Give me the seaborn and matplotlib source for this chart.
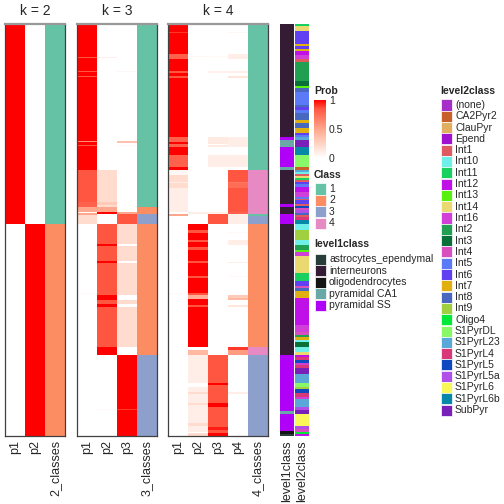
import numpy as np
import pandas as pd
import matplotlib
matplotlib.use("Agg")
import matplotlib.pyplot as plt
import seaborn as sns
from matplotlib.colors import ListedColormap, LinearSegmentedColormap
from matplotlib.patches import Rectangle
import matplotlib.cm as cm
import matplotlib.colors as mcolors

# run-length encoded rows: (number of samples, value), top to bottom
k2_p1 = [(200, 1.0), (212, 0.0)]
k2_p2 = [(200, 0.0), (212, 1.0)]
k2_cls = [(200, 1), (212, 2)]

k3_p1 = [(33, 1), (1, 0.85), (13, 1), (1, 0.85), (4, 1), (1, 0.85), (64, 1), (1, 0.6),
         (3, 1), (1, 0.85), (24, 1), (32, 0.85), (5, 0.8), (5, 0.5), (1, 0), (2, 0.5),
         (9, 0.2), (69, 0), (1, 0.03), (142, 0)]
k3_p2 = [(33, 0), (1, 0.1), (112, 0), (32, 0.2), (3, 0.3), (2, 0.2), (5, 0.5), (2, 1),
         (10, 0), (20, 0.85), (2, 1), (15, 0.85), (2, 1), (32, 0.85), (5, 1), (4, 0.85),
         (3, 1), (40, 0.85), (8, 1), (54, 0), (1, 0.03), (26, 0)]
k3_p3 = [(47, 0), (1, 0.05), (69, 0), (2, 0.35), (2, 0), (1, 0.05), (66, 0), (2, 0.5),
         (10, 0.85), (20, 0.2), (2, 0), (15, 0.2), (2, 0), (32, 0.2), (5, 0), (4, 0.2),
         (3, 0), (40, 0.2), (8, 0), (54, 1), (1, 0.9), (26, 1)]
k3_cls = [(183, 1), (7, 2), (10, 3), (131, 2), (81, 3)]

k4_p1 = [(8, 1), (1, 0.9), (21, 1), (5, 0.8), (12, 1), (2, 0.85), (3, 1), (2, 0.85),
         (59, 1), (5, 0.8), (2, 1), (3, 0.8), (8, 1), (12, 0.8), (3, 1), (5, 0.05),
         (7, 0.2), (1, 0.1), (5, 0.2), (24, 0.1), (2, 0), (2, 0.5), (77, 0), (1, 0.04),
         (142, 0)]
k4_p2 = [(32, 0), (1, 0.05), (155, 0), (2, 0.1), (10, 0), (6, 1), (3, 0.85), (7, 1),
         (2, 0.85), (5, 1), (3, 0.85), (11, 1), (2, 0.85), (13, 1), (2, 0.85), (15, 1),
         (2, 0.85), (4, 0.45), (6, 1), (2, 0.85), (40, 1), (3, 0), (5, 0.4), (28, 0.1),
         (4, 0), (5, 0.1), (2, 0.2), (9, 0.1), (2, 0.2), (18, 0.1), (3, 0.2), (6, 0.1),
         (1, 0), (3, 0.2)]
k4_p3 = [(32, 0), (1, 0.04), (14, 0), (2, 0.08), (64, 0), (7, 0.12), (1, 0), (2, 0.12),
         (8, 0), (12, 0.1), (45, 0), (2, 0.08), (10, 0.85), (131, 0), (28, 0.85), (2, 1),
         (18, 0.85), (4, 1), (20, 0.85), (3, 0.95), (3, 0.85), (3, 1)]
k4_p4 = [(8, 0), (1, 0.05), (21, 0), (5, 0.1), (12, 0), (2, 0.1), (3, 0), (2, 0.15),
         (59, 0), (10, 0.1), (8, 0), (12, 0.1), (3, 0), (12, 0.85), (1, 0.7), (5, 0.75),
         (24, 0.85), (2, 0.8), (10, 0.1), (8, 0), (1, 0.04), (7, 0), (5, 0.1), (17, 0),
         (1, 0.1), (13, 0), (1, 0.04), (18, 0), (3, 0.3), (2, 0.4), (5, 0), (2, 0.15),
         (40, 0), (3, 0.9), (5, 0.55), (37, 0), (2, 0.1), (42, 0)]
k4_cls = [(146, 1), (44, 4), (2, 1), (8, 3), (123, 2), (8, 4), (81, 3)]

level1_names = ["astrocytes_ependymal", "interneurons", "oligodendrocytes",
                "pyramidal CA1", "pyramidal SS"]
level1_colors = ["#283C38", "#341C34", "#141414", "#6AA8A8", "#B000F8"]
level1 = [("interneurons", 113), ("pyramidal SS", 3), ("pyramidal CA1", 7),
          ("pyramidal SS", 20), ("pyramidal CA1", 3), ("interneurons", 34),
          ("pyramidal SS", 3), ("interneurons", 7), ("pyramidal SS", 10),
          ("interneurons", 131), ("pyramidal SS", 56), ("pyramidal CA1", 3),
          ("pyramidal SS", 17), ("oligodendrocytes", 3), ("astrocytes_ependymal", 2)]

level2_names = ["(none)", "CA2Pyr2", "ClauPyr", "Epend", "Int1", "Int10", "Int11",
                "Int12", "Int13", "Int14", "Int16", "Int2", "Int3", "Int4", "Int5",
                "Int6", "Int7", "Int8", "Int9", "Oligo4", "S1PyrDL", "S1PyrL23",
                "S1PyrL4", "S1PyrL5", "S1PyrL5a", "S1PyrL6", "S1PyrL6b", "SubPyr"]
level2_colors = ["#A52FC8", "#C8602A", "#E0B060", "#A010D0", "#E05A62", "#6EF0E8",
                 "#18D060", "#C010E8", "#58F010", "#EAD870", "#D040D8", "#20A050",
                 "#087038", "#D850C0", "#5A7AF8", "#6040F0", "#E0B010", "#4868C0",
                 "#A0D040", "#00E838", "#88F868", "#5AA8D8", "#D83878", "#1048C0",
                 "#B050E8", "#F8F858", "#0888A8", "#7820B8"]
level2 = [("Int11", 2), ("Int14", 5), ("Int6", 13), ("Int7", 2), ("Int6", 3), ("Int7", 2),
          ("Int12", 4), ("Int16", 4), ("Int1", 3), ("Int2", 19), ("Int3", 5), ("Int13", 2),
          ("Int8", 4), ("Int5", 13), ("Int8", 2), ("Int6", 3), ("Int5", 3), ("Int8", 7),
          ("Int7", 3), ("Int8", 5), ("Int7", 5), ("Int6", 2), ("Int5", 2),
          ("S1PyrL23", 3), ("SubPyr", 7), ("S1PyrL6b", 8), ("S1PyrDL", 12), ("CA2Pyr2", 3),
          ("S1PyrL23", 2), ("Int10", 2), ("Int1", 2), ("Int14", 2), ("Int11", 2),
          ("Int1", 2), ("Int6", 2), ("Int5", 3), ("Int12", 5), ("Int16", 5), ("Int5", 2),
          ("Int1", 1), ("Int6", 4), ("Int1", 2), ("S1PyrL5", 2), ("Int4", 2),
          ("S1PyrL5a", 3), ("Int8", 2), ("Int1", 2), ("S1PyrL4", 3), ("S1PyrL6b", 4),
          ("Int10", 6), ("Int9", 10), ("Int10", 5), ("Int2", 5), ("Int13", 2),
          ("Int16", 4), ("Int14", 17), ("Int11", 8), ("Int6", 5), ("Int4", 2), ("Int8", 3),
          ("Int7", 7), ("Int12", 27), ("Int16", 7), ("Int4", 3), ("Int2", 2), ("Int7", 3),
          ("Int10", 2), ("Int3", 5), ("Int10", 5), ("Int14", 3), ("Int12", 2),
          ("S1PyrL4", 3), ("S1PyrL5", 3), ("Int16", 2), ("S1PyrL4", 3), ("SubPyr", 6),
          ("S1PyrL23", 9), ("S1PyrDL", 4), ("Int9", 2), ("S1PyrL5", 4), ("S1PyrL4", 4),
          ("Int16", 2), ("S1PyrL23", 8), ("S1PyrL5a", 3), ("SubPyr", 4), ("S1PyrL6", 12),
          ("S1PyrL5a", 3), ("Int4", 3), ("Oligo4", 2), ("Int12", 2)]

class_colors = ["#66C2A5", "#FC8D62", "#8DA0CB", "#E78AC3"]


def expand(segs):
    return np.repeat([v for n, v in segs], [n for n, v in segs]).astype(float)


def expand_cat(segs, names):
    return np.repeat([names.index(c) for c, n in segs], [n for c, n in segs]).astype(float)


W, H = 504, 504


def box(x0, y0, w, h):
    return [x0 / W, 1 - (y0 + h) / H, w / W, h / H]


sns.set_style("white")
plt.rcParams["font.family"] = ["Liberation Sans", "DejaVu Sans"]

prob_cmap = LinearSegmentedColormap.from_list(
    "prob", [(0, "#FFFFFF"), (0.2, "#FFDCCE"), (0.5, "#FFA68C"), (0.85, "#FF5741"),
             (1, "#FF0000")])
cls_cmap = ListedColormap(class_colors)

fig = plt.figure(figsize=(5.04, 5.04), dpi=100)

panels = [
    ("k = 2", [k2_p1, k2_p2], k2_cls, 5, 60),
    ("k = 3", [k3_p1, k3_p2, k3_p3], k3_cls, 77, 80),
    ("k = 4", [k4_p1, k4_p2, k4_p3, k4_p4], k4_cls, 168, 100),
]
top, height = 24, 412
lab_fs = 9

for title, probs, cls, x0, w in panels:
    k = len(probs)
    cols = [f"p{i + 1}" for i in range(k)] + [f"{k}_classes"]
    prob_df = pd.DataFrame({c: expand(p) for c, p in zip(cols, probs)})
    prob_df[cols[-1]] = np.nan
    cls_df = pd.DataFrame({c: np.nan for c in cols[:-1]}, index=prob_df.index)
    cls_df[cols[-1]] = expand(cls)
    ax = fig.add_axes(box(x0, top, w, height))
    sns.heatmap(prob_df, cmap=prob_cmap, vmin=0, vmax=1, cbar=False, ax=ax,
                xticklabels=True, yticklabels=False)
    sns.heatmap(cls_df, cmap=cls_cmap, vmin=0.5, vmax=4.5, cbar=False, ax=ax,
                xticklabels=True, yticklabels=False)
    ax.set_xticklabels(cols, rotation=90, fontsize=lab_fs)
    ax.tick_params(length=0, pad=3)
    for s in ["left", "right", "bottom"]:
        ax.spines[s].set_visible(True)
        ax.spines[s].set_color("#404040")
        ax.spines[s].set_linewidth(0.9)
    ax.spines["top"].set_visible(True)
    ax.spines["top"].set_color("#999999")
    ax.spines["top"].set_linewidth(1.6)
    fig.text((x0 + w / 2) / W, 1 - 11 / H, title, ha="center", va="center", fontsize=10)

# annotation columns
annots = [("level1class", level1, level1_names, level1_colors, 280, 14),
          ("level2class", level2, level2_names, level2_colors, 295, 14)]
for name, segs, names, colors, x0, w in annots:
    df = pd.DataFrame({name: expand_cat(segs, names)})
    ax = fig.add_axes(box(x0, top, w, height))
    sns.heatmap(df, cmap=ListedColormap(colors), vmin=-0.5, vmax=len(colors) - 0.5,
                cbar=False, ax=ax, xticklabels=True, yticklabels=False)
    ax.set_xticklabels([name], rotation=90, fontsize=lab_fs)
    ax.tick_params(length=0, pad=3)

# legends
fs = 7.5
fig.text(314 / W, 1 - 91 / H, "Prob", fontsize=fs, fontweight="bold", va="center")
cax = fig.add_axes(box(314, 100, 12, 58))
cb = fig.colorbar(cm.ScalarMappable(norm=mcolors.Normalize(0, 1), cmap=prob_cmap), cax=cax)
cb.set_ticks([0, 0.5, 1])
cb.set_ticklabels(["0", "0.5", "1"])
cb.outline.set_visible(False)
cax.tick_params(labelsize=fs, length=2, direction="in", color="white", pad=2)


def legend_block(title, labels, colors, x, y_title, y_first, step):
    fig.text(x / W, 1 - y_title / H, title, fontsize=fs, fontweight="bold", va="center")
    for i, (lab, col) in enumerate(zip(labels, colors)):
        yc = y_first + i * step
        fig.patches.append(Rectangle(((x + 1) / W, 1 - (yc + 5.5) / H), 11 / W, 11 / H,
                                     transform=fig.transFigure, facecolor=col,
                                     edgecolor="white", linewidth=0.5))
        fig.text((x + 15) / W, 1 - yc / H, lab, fontsize=fs, va="center")


legend_block("Class", ["1", "2", "3", "4"], class_colors, 314, 175, 189, 11.4)
legend_block("level1class", level1_names, level1_colors, 314, 244, 259, 11.6)
legend_block("level2class", level2_names, level2_colors, 440, 91, 105, 11.3)

plt.savefig("out.png", dpi=100)
